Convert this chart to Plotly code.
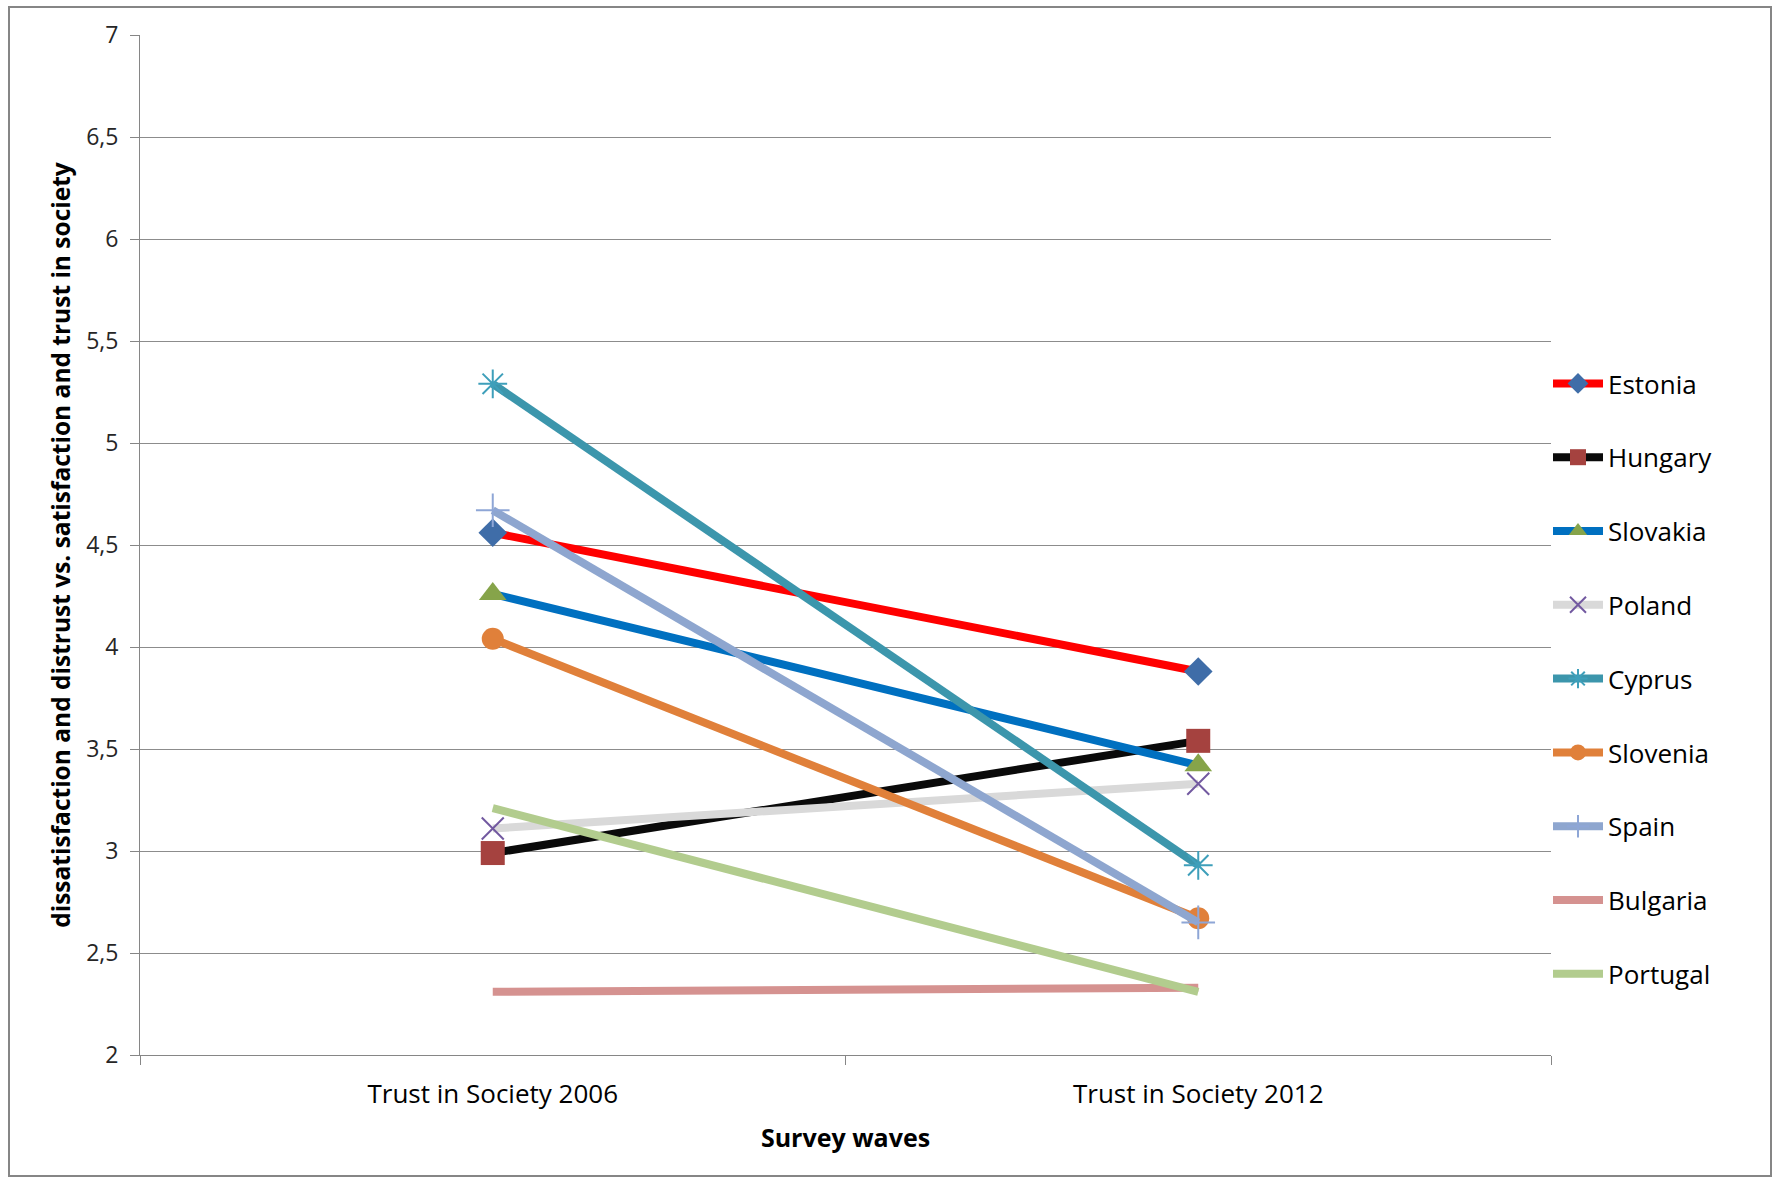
import plotly.graph_objects as go

waves = ["Trust in Society 2006", "Trust in Society 2012"]
countries = ["Estonia", "Hungary", "Slovakia", "Poland", "Cyprus", "Slovenia", "Spain", "Bulgaria", "Portugal"]
values_2006 = [4.56, 2.99, 4.26, 3.11, 5.29, 4.04, 4.67, 2.31, 3.21]
values_2012 = [3.88, 3.54, 3.42, 3.33, 2.93, 2.67, 2.65, 2.33, 2.31]
y_ticks = [2, 2.5, 3, 3.5, 4, 4.5, 5, 5.5, 6, 6.5, 7]

line_colors = ["#FF0000", "#0A0A0A", "#0070C0", "#D9D9D9", "#3C96AC", "#E0803A", "#8EA6CF", "#D59290", "#B2CC8E"]
marker_colors = ["#3F6DA8", "#A5423F", "#86A44A", "#7259A0", "#3E9FBA", "#E0803A", "#8EA6D6", "#D59290", "#B2CC8E"]
marker_symbols = ["diamond", "square", "triangle-up", "x-thin-open", "asterisk-open", "circle", "cross-thin-open", None, None]
marker_sizes = [22, 24, 24, 22, 24, 22, 24, 0, 0]

FONT = "'Open Sans', sans-serif"

fig = go.Figure()
for i, c in enumerate(countries):
    sym = marker_symbols[i]
    if sym is None:
        mode = "lines"
        marker = dict()
    else:
        mode = "lines+markers"
        if sym.endswith("-open"):
            marker = dict(symbol=sym, size=marker_sizes[i], color=marker_colors[i],
                          line=dict(color=marker_colors[i], width=2))
        else:
            marker = dict(symbol=sym, size=marker_sizes[i], color=marker_colors[i],
                          line=dict(width=0))
    fig.add_trace(go.Scatter(
        x=waves, y=[values_2006[i], values_2012[i]], name=c, mode=mode,
        line=dict(color=line_colors[i], width=8), marker=marker,
        legendgroup=c,
    ))

W, H = 1773, 1179
L, R, T, B = 140, 1551, 35, 1055
pw, ph = R - L, B - T

def px(xp):
    return (xp - L) / pw

def py(yp):
    return (B - yp) / ph

fig.update_layout(
    width=W, height=H,
    margin=dict(l=L, r=W - R, t=T, b=H - B, autoexpand=False),
    paper_bgcolor="white", plot_bgcolor="white",
    separators=", ",
    font=dict(family=FONT, size=26, color="#000000"),
    showlegend=True,
    legend=dict(x=px(1548), y=py(360), xanchor="left", yanchor="top",
                font=dict(family=FONT, size=26, color="#000000"),
                tracegroupgap=37, itemwidth=50, bgcolor="rgba(0,0,0,0)"),
    xaxis=dict(
        type="category", range=[-0.5, 1.5], showgrid=False,
        showline=True, linecolor="#868686", linewidth=1,
        ticks="outside", ticklen=9, tickcolor="#868686", tickson="boundaries",
        ticklabelstandoff=16,
        tickfont=dict(family=FONT, size=26, color="#000000"),
        title=dict(text="<b>Survey waves</b>", font=dict(family=FONT, size=25, color="#000000"), standoff=19),
    ),
    yaxis=dict(
        range=[2, 7], tickvals=y_ticks,
        showgrid=True, gridcolor="#8C8C8C", gridwidth=1,
        showline=True, linecolor="#868686", linewidth=1,
        ticks="outside", ticklen=9, tickcolor="#868686",
        ticklabelstandoff=7,
        tickfont=dict(family=FONT, size=23, color="#262626"),
        zeroline=False,
        title=dict(text="<b>dissatisfaction and distrust vs. satisfaction and trust in society</b>",
                   font=dict(family=FONT, size=24.5, color="#000000"), standoff=8),
    ),
    shapes=[dict(type="rect", xref="paper", yref="paper",
                 x0=px(9), x1=px(1771), y0=py(1176), y1=py(7),
                 line=dict(color="#868686", width=2), fillcolor="rgba(0,0,0,0)", layer="below")],
)

fig.write_html("out.html")
